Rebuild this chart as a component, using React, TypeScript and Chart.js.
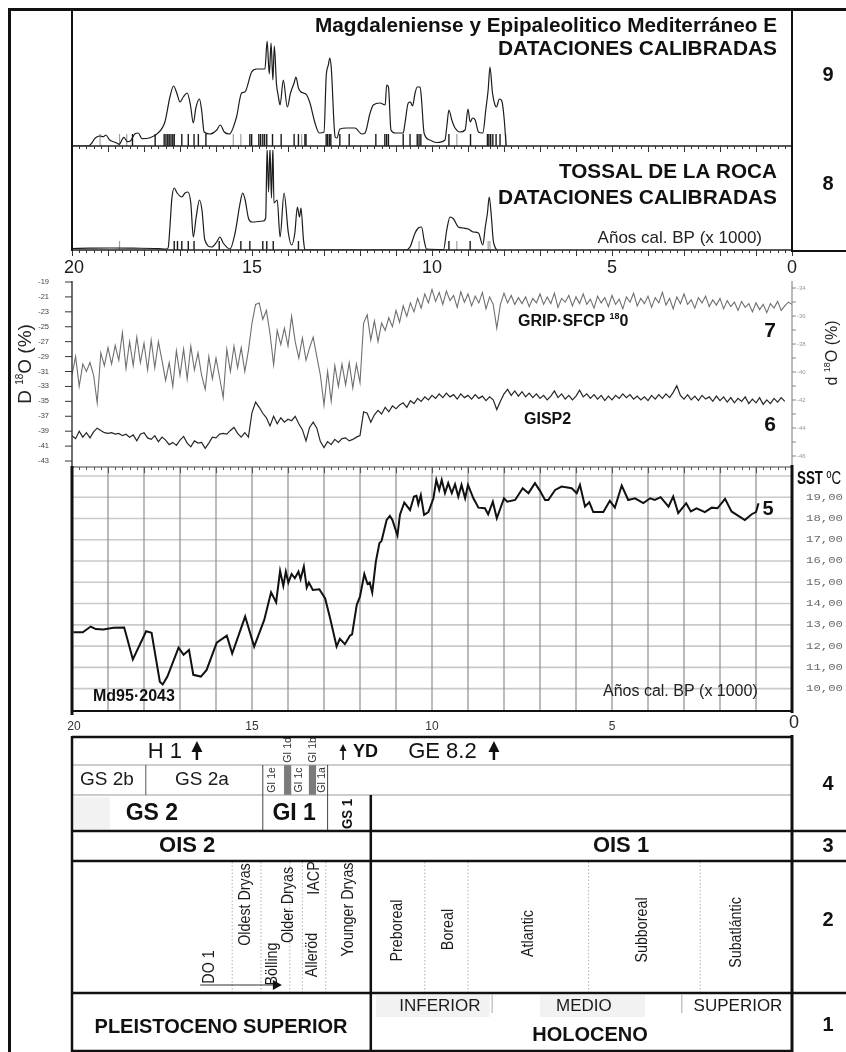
import React, { useEffect, useRef } from "react";
import { Chart, registerables } from "chart.js";

Chart.register(...registerables);

const W = 846;
const H = 1052;
const PLOT_LEFT = 72;
const PLOT_RIGHT = 792;
const FONT = '"Liberation Sans", Arial, Helvetica, sans-serif';
const MONO = '"Liberation Mono", "DejaVu Sans Mono", monospace';
const INK = "#111";

// ---------------- DATA ----------------
const AGE_LABELS = [20, 15, 10, 5, 0];

// 9: Magdaleniense y Epipaleolítico Mediterráneo – summed calibrated dates
const P9_AGES = [20.0, 19.55, 19.45, 19.36, 19.22, 19.13, 19.06, 18.96, 18.76, 18.69, 18.56, 18.46, 18.37, 18.25, 18.16, 18.06, 17.83, 17.63, 17.42, 17.28, 17.18, 17.09, 17.0, 16.91, 16.8, 16.71, 16.63, 16.56, 16.46, 16.4, 16.33, 16.17, 15.98, 15.88, 15.77, 15.63, 15.43, 15.29, 15.2, 15.01, 14.87, 14.64, 14.58, 14.52, 14.47, 14.42, 14.38, 14.32, 14.27, 14.22, 14.13, 14.02, 13.93, 13.83, 13.78, 13.71, 13.64, 13.57, 13.48, 13.39, 13.25, 13.13, 13.0, 12.94, 12.88, 12.84, 12.8, 12.69, 12.64, 12.56, 12.37, 12.14, 11.95, 11.86, 11.72, 11.63, 11.44, 11.3, 11.26, 11.21, 11.14, 11.02, 10.8, 10.75, 10.66, 10.6, 10.54, 10.47, 10.41, 10.33, 10.29, 10.22, 10.06, 9.87, 9.64, 9.59, 9.53, 9.45, 9.36, 9.22, 9.08, 9.0, 8.94, 8.87, 8.8, 8.71, 8.59, 8.5, 8.44, 8.39, 8.32, 8.25, 8.21, 8.13, 8.06, 8.0, 7.94];
const P9_SUM = [0, 0, 3, 7.7, 10, 9.3, 11, 6.3, 3, 1.7, 8.7, 4.3, 5.3, 12.3, 13, 7.3, 8.3, 12.3, 24, 49, 60, 53, 44, 49, 53, 41, 23, 38, 47, 36, 14, 12, 16, 21, 14, 12, 29, 53, 54, 74, 77, 77, 105, 72, 103, 66, 100, 62, 50, 41, 66, 39, 53, 63, 69, 58, 54, 53, 51, 43, 23, 13, 14, 69, 81, 88, 79, 9, 8, 17, 18, 18, 12, 13, 33, 41, 43, 41, 61, 59, 16, 13, 13, 23, 43, 44, 40, 53, 59, 59, 46, 13, 6, 3.5, 6, 19, 36, 26, 18, 14, 16, 37, 24, 28, 26, 14, 13, 38, 56, 79, 53, 41, 39, 47, 45, 29, 0];
const P9_DATES_BLACK = [18.32, 17.69, 17.44, 17.39, 17.34, 17.3, 17.25, 17.2, 17.16, 16.95, 16.77, 16.61, 16.49, 16.28, 15.06, 15.01, 14.81, 14.76, 14.7, 14.65, 14.59, 14.43, 14.19, 13.83, 13.71, 13.53, 13.5, 12.94, 12.9, 12.85, 12.81, 12.56, 12.3, 11.56, 11.31, 11.26, 11.21, 10.8, 10.61, 10.41, 10.36, 10.31, 9.53, 8.93, 8.46, 8.42, 8.37, 8.31, 8.22, 8.11];
const P9_DATES_GREY = [19.22, 18.68, 18.48, 15.52, 15.31, 13.62, 9.31, 7.95];

// 8: Tossal de la Roca – summed calibrated dates
const P8_AGES = [20.0, 19.5, 18.9, 18.3, 17.6, 17.4, 17.33, 17.28, 17.23, 17.16, 17.08, 16.95, 16.86, 16.78, 16.7, 16.63, 16.55, 16.46, 16.39, 16.31, 16.12, 15.98, 15.89, 15.8, 15.61, 15.47, 15.33, 15.26, 15.19, 15.1, 15.0, 14.69, 14.62, 14.58, 14.54, 14.5, 14.46, 14.42, 14.39, 14.3, 14.22, 14.11, 13.99, 13.9, 13.81, 13.74, 13.68, 13.64, 13.57, 13.53, 10.75, 10.61, 10.47, 10.38, 10.29, 10.22, 10.15, 9.68, 9.59, 9.5, 9.4, 9.27, 9.13, 8.99, 8.85, 8.71, 8.59, 8.52, 8.46, 8.41, 8.35, 8.3, 8.25, 8.2];
const P8_SUM = [1.5, 1.8, 2, 1.8, 1.4, 0.8, 2, 23, 50, 62, 57, 53, 57, 58, 47, 13, 33, 50, 40, 10, 3, 8, 13, 7, 1, 17, 47, 57, 50, 32, 28, 29, 32, 102, 58, 102, 52, 102, 47, 50, 13, 57, 17, 5, 17, 43, 33, 42, 10, 0, 0, 3, 17, 22, 23, 10, 1, 0.5, 20, 33, 31, 23, 22, 21, 18, 17, 5, 23, 37, 53, 33, 10, 3, 0];
const P8_DATES_BLACK = [17.16, 17.07, 16.95, 16.77, 16.61, 15.91, 15.31, 15.06, 14.7, 14.59, 14.41, 13.71, 9.53, 8.94];
const P8_DATES_GREY = [18.68, 10.36, 9.31, 8.44, 8.39];

// 7 / 6: ice-core records, sampled every 0.1 ka from 20 ka
const ICE_START_AGE = 20;
const ICE_STEP = 0.1;
const GRIP_D18O = [
  -31.5, -29.0, -33.0, -30.0, -31.0, -29.8, -31.5, -35.2, -28.5, -30.2,
  -27.8, -30.0, -27.5, -29.5, -25.8, -30.6, -27.0, -30.2, -26.4, -29.8,
  -27.2, -30.8, -26.8, -30.5, -27.0, -29.5, -32.2, -29.8, -33.0, -28.2,
  -31.5, -28.0, -32.0, -27.6, -30.8, -28.5, -31.5, -33.4, -29.0, -32.0,
  -29.2, -31.8, -34.5, -28.0, -31.0, -27.6, -30.5, -27.8, -31.0, -28.2,
  -24.5, -22.0, -21.8, -24.0, -22.8, -25.9, -30.1, -25.5, -27.4, -25.2,
  -27.6, -23.6, -27.0, -29.2, -26.5, -29.5, -27.8, -26.4, -29.0, -31.5,
  -35.5, -31.0, -35.0, -30.2, -33.0, -30.0, -32.8, -29.8, -33.2, -30.0,
  -32.5, -24.5, -23.4, -26.8, -24.2, -27.0, -24.5, -25.5, -23.8, -25.0,
  -22.8, -24.4, -22.2, -23.6, -21.8, -23.0, -21.2, -22.5, -20.6, -21.8,
  -20.0, -21.6, -20.4, -22.0, -20.2, -21.5, -20.8, -22.4, -20.3, -21.7,
  -20.6, -22.2, -20.9, -21.8, -20.4, -22.6, -21.0, -22.0, -25.2, -22.0,
  -20.5, -21.8, -20.8, -22.0, -21.1, -21.9, -21.0, -22.3, -21.2, -21.8,
  -20.6, -22.0, -21.0, -21.9, -20.5, -22.4, -21.2, -21.7, -20.8, -22.2,
  -21.0, -21.9, -20.6, -22.0, -21.3, -22.5, -20.9, -21.8, -21.1, -22.3,
  -20.8, -22.0, -21.3, -22.6, -21.0, -21.7, -20.5, -22.2, -21.2, -21.9,
  -20.9, -22.4, -21.1, -21.8, -20.4, -22.1, -21.2, -22.6, -21.0, -21.9,
  -20.6, -22.0, -21.4, -22.5, -21.1, -21.8, -20.9, -22.3, -21.4, -22.1,
  -21.2, -22.6, -21.5, -22.3, -21.7, -22.8, -21.6, -22.4, -21.9, -23.0,
  -21.8, -22.7, -22.0, -23.1, -21.9, -22.5, -21.6, -22.8, -22.2, -21.7,
  -22.0,
];
const GISP2_D18O = [
  -39.6, -40.0, -39.0, -39.8, -39.2, -39.9, -39.1, -38.6, -38.9, -39.2,
  -39.3, -39.2, -39.4, -39.3, -39.6, -39.4, -39.8, -39.5, -40.3, -39.4,
  -39.2, -39.9, -40.1, -39.6, -40.4, -39.8, -40.2, -40.8, -40.5, -40.9,
  -40.2, -39.7, -40.6, -41.1, -40.3, -40.6, -40.5, -41.3, -40.6, -39.8,
  -39.9, -39.4, -39.3, -39.4, -38.9, -38.5, -39.3, -39.8, -39.2, -39.8,
  -36.5, -35.1, -35.8, -36.6, -37.2, -38.3, -37.0, -38.0, -37.2, -37.8,
  -37.4, -37.6, -37.0, -38.0, -38.8, -40.3, -38.5, -37.8, -38.6, -40.4,
  -41.2, -40.4, -40.8, -40.1, -40.5, -40.0, -39.9, -40.3, -40.1, -39.8,
  -39.6, -36.4, -36.6, -37.8, -36.8, -36.2, -36.7, -35.8, -36.4, -35.6,
  -36.0, -35.5, -35.2, -35.8, -34.9, -35.3, -34.6, -35.0, -34.4, -34.8,
  -34.2, -34.6, -34.0, -34.5, -33.9, -34.4, -34.1, -34.7, -34.0, -34.5,
  -34.2, -34.7, -34.1, -34.6, -34.3, -34.9, -34.4, -34.8, -36.1, -35.0,
  -34.0, -33.4, -34.2, -33.6, -34.3, -33.7, -34.4, -33.9, -34.5, -34.0,
  -34.6, -34.2, -34.8, -34.3, -33.6, -34.5, -34.0, -34.7, -34.2, -34.8,
  -34.3, -33.5, -34.4, -34.0, -34.6, -34.1, -34.7, -34.2, -34.9, -34.3,
  -34.8, -34.2, -34.6, -34.0, -34.5, -34.1, -34.7, -34.3, -34.8, -34.4,
  -34.9, -34.2, -34.7, -34.1, -34.6, -34.0, -34.5, -33.8, -32.9, -34.2,
  -34.7, -34.1, -34.8, -34.3, -34.9, -34.2, -34.7, -34.4, -35.0, -34.3,
  -34.9, -34.4, -35.1, -34.5, -35.2, -34.6, -35.0, -34.4, -35.3, -34.7,
  -35.2, -34.5, -35.4, -34.8, -35.3, -34.6, -35.1, -34.5, -35.0,
];
const D18O_LEFT_TICKS = [-19, -21, -23, -25, -27, -29, -31, -33, -35, -37, -39, -41, -43];
const D18O_RIGHT_TICKS = [-34, -35, -36, -37, -38, -39, -40, -41, -42, -43, -44, -45, -46];

// 5: Md95-2043 SST
const SST_AGES = [19.96, 19.7, 19.48, 19.34, 19.13, 18.85, 18.55, 18.31, 17.94, 17.79, 17.56, 17.48, 17.35, 17.04, 16.9, 16.75, 16.63, 16.42, 16.26, 15.98, 15.7, 15.55, 15.19, 14.94, 14.66, 14.47, 14.33, 14.22, 14.13, 14.06, 13.99, 13.9, 13.81, 13.71, 13.65, 13.56, 13.48, 13.42, 13.31, 13.13, 12.97, 12.83, 12.65, 12.56, 12.42, 12.28, 12.22, 12.09, 12.0, 11.88, 11.79, 11.73, 11.66, 11.56, 11.46, 11.4, 11.26, 11.17, 11.1, 10.96, 10.89, 10.77, 10.61, 10.5, 10.43, 10.38, 10.31, 10.22, 10.1, 9.96, 9.88, 9.8, 9.73, 9.64, 9.55, 9.45, 9.36, 9.27, 9.18, 9.08, 9.0, 8.85, 8.71, 8.53, 8.44, 8.31, 8.2, 8.0, 7.91, 7.69, 7.48, 7.32, 7.14, 7.0, 6.86, 6.77, 6.58, 6.4, 6.12, 5.98, 5.89, 5.75, 5.63, 5.52, 5.24, 5.06, 4.92, 4.73, 4.55, 4.36, 4.13, 3.94, 3.81, 3.65, 3.43, 3.3, 3.16, 2.94, 2.81, 2.65, 2.42, 2.23, 2.07, 1.86, 1.68, 1.31, 1.12, 1.0, 0.93];
const SST_C = [12.65, 12.65, 12.92, 12.8, 12.78, 12.86, 12.87, 11.38, 12.7, 12.63, 10.33, 10.2, 10.57, 11.93, 11.59, 11.82, 10.65, 10.57, 10.88, 12.16, 12.49, 11.65, 13.39, 11.98, 13.23, 14.53, 14.06, 15.53, 14.83, 15.5, 14.99, 15.39, 15.19, 15.5, 15.15, 15.74, 14.75, 14.99, 14.64, 14.67, 14.25, 13.31, 11.98, 12.34, 12.09, 12.49, 12.55, 13.94, 14.33, 15.39, 14.92, 14.99, 14.52, 15.97, 16.84, 16.95, 17.93, 18.12, 17.93, 17.2, 18.18, 18.75, 18.4, 19.03, 19.07, 18.67, 19.1, 18.17, 18.3, 18.95, 19.81, 19.34, 19.81, 19.19, 19.66, 19.19, 19.61, 19.03, 19.58, 18.95, 19.58, 18.95, 18.51, 18.48, 18.2, 18.79, 18.01, 18.95, 18.79, 18.87, 19.42, 19.19, 19.66, 19.3, 18.87, 18.87, 19.34, 19.5, 19.42, 19.19, 19.58, 18.56, 18.76, 18.3, 18.3, 18.83, 18.51, 19.55, 18.87, 18.95, 18.72, 18.95, 18.87, 19.0, 18.56, 19.03, 18.25, 18.72, 18.33, 18.48, 18.3, 18.51, 18.48, 18.92, 18.33, 17.93, 18.2, 18.3, 18.72];
const SST_TICKS = [19, 18, 17, 16, 15, 14, 13, 12, 11, 10];
const SST_GRID = [20, 19, 18, 17, 16, 15, 14, 13, 12, 11, 10];

// 1-4: chronostratigraphy (ages in ka cal BP)
const EVENTS = [
  { label: "H 1", age: 17.42, arrow: 16.53, bold: false, size: 22 },
  { label: "YD", age: 11.85, arrow: 12.47, bold: true, size: 18 },
  { label: "GE 8.2", age: 9.71, arrow: 8.28, bold: false, size: 22 },
];
const GS_SUB_LABELS = [{ label: "GS 2b", age: 19.03 }, { label: "GS 2a", age: 16.39 }];
const GI_SUB_TOP = [{ label: "GI 1d", age: 14.0 }, { label: "GI 1b", age: 13.3 }];
const GI_SUB = [{ label: "GI 1e", age: 14.44 }, { label: "GI 1c", age: 13.69 }, { label: "GI 1a", age: 13.06 }];
const GS_MAIN = [{ label: "GS 2", age: 17.78 }, { label: "GI 1", age: 13.83 }];
const GS1 = { label: "GS 1", age: 12.33 };
const OIS = [{ label: "OIS 2", age: 16.8 }, { label: "OIS 1", age: 4.75 }];
const GS_SUB_BOUNDS = [17.95];
const GI_BOUNDS = [14.7, 12.9];
const HOLOCENE_START = 11.7;
const GI_GREY_BARS = [[14.11, 13.91], [13.42, 13.22]];
const POLLEN_BOUNDS = [15.55, 14.75, 13.95, 13.6, 12.95, 10.2, 9.0, 5.65, 2.55];
const POLLEN_ZONES = ["DO 1", "Oldest Dryas", "Bölling", "Older Dryas", "Alleröd", "IACP", "Younger Dryas", "Preboreal", "Boreal", "Atlantic", "Subboreal", "Subatlántic"];
const POLLEN_AGES = [16.19, 15.19, 14.44, 14.0, 13.33, 13.28, 12.33, 10.97, 9.56, 7.33, 4.17, 1.56];
const DO1_ARROW = [16.44, 14.17];
const HOLO_SUB = [{ label: "INFERIOR", age: 9.78 }, { label: "MEDIO", age: 5.78 }, { label: "SUPERIOR", age: 1.5 }];
const HOLO_SUB_BOUNDS = [8.33, 3.06];
const EPOCHS = [{ label: "PLEISTOCENO SUPERIOR", age: 15.86 }, { label: "HOLOCENO", age: 5.61 }];

// ---------------- DRAW HELPERS ----------------
const fnt = (size: number, bold?: boolean, fam?: string) => `${bold ? "bold " : ""}${size}px ${fam || FONT}`;

function txt(ctx: CanvasRenderingContext2D, s: string, x: number, y: number, size: number, o: any = {}) {
  ctx.save();
  ctx.font = fnt(size, o.bold, o.family);
  ctx.fillStyle = o.color || INK;
  ctx.textBaseline = "middle";
  ctx.textAlign = o.align || "center";
  ctx.translate(x, y);
  if (o.rot) ctx.rotate(o.rot);
  let sx = o.sx || 1;
  if (o.width) {
    const w = ctx.measureText(s).width;
    sx = o.width / w;
  }
  ctx.scale(sx, 1);
  ctx.fillText(s, 0, 0);
  ctx.restore();
}

function rich(ctx: CanvasRenderingContext2D, parts: any[], x: number, y: number, o: any = {}) {
  ctx.save();
  ctx.translate(x, y);
  if (o.rot) ctx.rotate(o.rot);
  ctx.scale(o.sx || 1, 1);
  ctx.fillStyle = o.color || INK;
  ctx.textBaseline = "alphabetic";
  ctx.textAlign = "left";
  const ws = parts.map((p) => {
    ctx.font = fnt(p.size, p.bold);
    return ctx.measureText(p.t).width;
  });
  const total = ws.reduce((a, b) => a + b, 0);
  let cx = o.align === "center" ? -total / 2 : o.align === "right" ? -total : 0;
  parts.forEach((p, i) => {
    ctx.font = fnt(p.size, p.bold);
    ctx.fillText(p.t, cx, p.dy || 0);
    cx += ws[i];
  });
  ctx.restore();
}

function seg(ctx: CanvasRenderingContext2D, x1: number, y1: number, x2: number, y2: number, w = 1, c = INK, dash?: number[]) {
  ctx.save();
  ctx.beginPath();
  ctx.lineWidth = w;
  ctx.strokeStyle = c;
  if (dash) ctx.setLineDash(dash);
  ctx.moveTo(x1, y1);
  ctx.lineTo(x2, y2);
  ctx.stroke();
  ctx.restore();
}

function ageTicks(ctx: CanvasRenderingContext2D, xs: any, y: number, dir: number, color = "#333") {
  ctx.save();
  ctx.strokeStyle = color;
  ctx.lineWidth = 1;
  ctx.beginPath();
  for (let k = 0; k <= 100; k++) {
    const px = Math.round(xs.getPixelForValue(k / 5)) + 0.5;
    const len = k % 5 === 0 ? 6 : 3;
    ctx.moveTo(px, y);
    ctx.lineTo(px, y + dir * len);
  }
  ctx.stroke();
  ctx.restore();
}

function upArrow(ctx: CanvasRenderingContext2D, x: number, tip: number, bottom: number, head: number, shaft: number) {
  ctx.save();
  ctx.fillStyle = INK;
  ctx.beginPath();
  ctx.moveTo(x, tip);
  ctx.lineTo(x - head / 2, tip + head);
  ctx.lineTo(x + head / 2, tip + head);
  ctx.closePath();
  ctx.fill();
  ctx.restore();
  seg(ctx, x, tip + head - 1, x, bottom, shaft);
}

function baseOptions(top: number, bottom: number, yMin: number, yMax: number, extra: any = {}) {
  return {
    animation: false,
    responsive: false,
    events: [],
    layout: { padding: { left: PLOT_LEFT, right: W - PLOT_RIGHT, top, bottom } },
    plugins: { legend: { display: false }, tooltip: { enabled: false } },
    scales: {
      x: { type: "linear", min: 0, max: 20, reverse: true, display: false },
      y: { type: "linear", min: yMin, max: yMax, display: false },
      ...extra,
    },
  };
}

const curveDataset = (ages: number[], vals: number[]) => ({
  data: ages.map((a, i) => ({ x: a, y: vals[i] })),
  borderColor: "#1c1c1c",
  borderWidth: 1.2,
  pointRadius: 0,
  cubicInterpolationMode: "monotone",
  fill: false,
});

const datesDataset = (ages: number[], half: number, color: string, width: number) => ({
  data: ages.map((a) => ({ x: a, y: half })),
  showLine: false,
  pointStyle: "line",
  pointRotation: 90,
  pointRadius: half,
  pointBorderColor: color,
  pointBackgroundColor: color,
  pointBorderWidth: width,
});

const iceAge = (i: number) => Math.round((ICE_START_AGE - i * ICE_STEP) * 100) / 100;

// ---------------- PANEL PLUGINS ----------------
const p9Plugin = {
  id: "p9",
  afterDraw(chart: any) {
    const ctx = chart.ctx as CanvasRenderingContext2D;
    const a = chart.chartArea;
    const xs = chart.scales.x;
    seg(ctx, a.left, a.bottom, a.right, a.bottom, 1.6, "#222");
    ageTicks(ctx, xs, a.bottom, 1, "#333");
    txt(ctx, "Magdaleniense y Epipaleolitico Mediterráneo E", 777, 26, 20, { bold: true, align: "right", width: 462 });
    txt(ctx, "DATACIONES CALIBRADAS", 777, 49, 20, { bold: true, align: "right", width: 279 });
    txt(ctx, "9", 828, 75, 20, { bold: true });
  },
};

const T8 = 140;
const p8Plugin = {
  id: "p8",
  afterDraw(chart: any) {
    const ctx = chart.ctx as CanvasRenderingContext2D;
    const a = chart.chartArea;
    const xs = chart.scales.x;
    ctx.save();
    ctx.translate(0, -T8);
    const bottom = a.bottom + T8;
    seg(ctx, a.left, bottom, a.right, bottom, 1.6, "#222");
    ageTicks(ctx, xs, bottom, 1, "#333");
    txt(ctx, "TOSSAL DE LA ROCA", 777, 172, 20, { bold: true, align: "right", width: 218 });
    txt(ctx, "DATACIONES CALIBRADAS", 777, 198, 20, { bold: true, align: "right", width: 279 });
    txt(ctx, "Años cal. BP (x 1000)", 762, 238, 17, { align: "right", color: "#222" });
    txt(ctx, "8", 828, 184, 20, { bold: true });
    ctx.restore();
  },
};

const T7 = 255;
const p7Plugin = {
  id: "p7",
  afterDraw(chart: any) {
    const ctx = chart.ctx as CanvasRenderingContext2D;
    const xs = chart.scales.x;
    const ys = chart.scales.y;
    const ys2 = chart.scales.y2;
    const Y = (v: number) => ys.getPixelForValue(v) + T7;
    const Y2 = (v: number) => ys2.getPixelForValue(v) + T7;
    const L = xs.getPixelForValue(20);
    const R = xs.getPixelForValue(0);
    ctx.save();
    ctx.translate(0, -T7);
    seg(ctx, L, 281, L, 467, 1.4, "#333");
    D18O_LEFT_TICKS.forEach((v) => {
      seg(ctx, L - 7, Y(v), L, Y(v), 1, "#333");
      txt(ctx, String(v), 49, Y(v), 7.5, { align: "right", color: "#444" });
    });
    seg(ctx, R, 281, R, 466, 1, "#777");
    D18O_RIGHT_TICKS.forEach((v) => {
      seg(ctx, R, Y2(v), R + 4, Y2(v), 1, "#888");
      if (v % 2 === 0) txt(ctx, String(v), 797, Y2(v), 6, { align: "left", color: "#999" });
    });
    AGE_LABELS.forEach((a) => txt(ctx, String(a), xs.getPixelForValue(a) + (a === 20 ? 2 : 0), 268, 18, { color: "#1b1b1b" }));
    rich(ctx, [{ t: "D ", size: 19 }, { t: "18", size: 10, dy: -8 }, { t: "O (%)", size: 19 }], 31, 364, { rot: -Math.PI / 2, align: "center", color: "#222" });
    rich(ctx, [{ t: "d ", size: 16 }, { t: "18", size: 9, dy: -7 }, { t: "O (%)", size: 16 }], 837, 353, { rot: -Math.PI / 2, align: "center", color: "#222" });
    rich(ctx, [{ t: "GRIP·SFCP ", size: 16, bold: true }, { t: "18", size: 9, bold: true, dy: -7 }, { t: "0", size: 16, bold: true }], 518, 326, {});
    txt(ctx, "GISP2", 524, 420, 16, { bold: true, align: "left" });
    txt(ctx, "7", 770, 331, 21, { bold: true });
    txt(ctx, "6", 770, 425, 21, { bold: true });
    ctx.restore();
  },
};

const T5 = 460;
const p5Plugin = {
  id: "p5",
  beforeDatasetsDraw(chart: any) {
    const ctx = chart.ctx as CanvasRenderingContext2D;
    const xs = chart.scales.x;
    const ys = chart.scales.y;
    const L = xs.getPixelForValue(20);
    const R = xs.getPixelForValue(0);
    const { top, bottom } = chart.chartArea;
    SST_GRID.forEach((v) => {
      const y = ys.getPixelForValue(v);
      seg(ctx, L, y, R, y, 1.6, "#cacaca");
    });
    for (let a = 1; a < 20; a++) {
      const x = xs.getPixelForValue(a);
      seg(ctx, x, top, x, bottom, 1.2, "#8e8e8e");
    }
  },
  afterDraw(chart: any) {
    const ctx = chart.ctx as CanvasRenderingContext2D;
    const xs = chart.scales.x;
    const ys = chart.scales.y;
    const Y = (v: number) => ys.getPixelForValue(v) + T5;
    const L = xs.getPixelForValue(20);
    const R = xs.getPixelForValue(0);
    ctx.save();
    ctx.translate(0, -T5);
    seg(ctx, L, 467, R, 467, 1, "#444");
    ageTicks(ctx, xs, 467, 1, "#555");
    seg(ctx, L, 466, L, 715, 3);
    seg(ctx, R, 465, R, 713, 3);
    seg(ctx, L, 711, R, 711, 2);
    SST_TICKS.forEach((v) => txt(ctx, `${v},00`, 806, Y(v), 9, { align: "left", family: MONO, color: "#6a6a6a", width: 37 }));
    rich(ctx, [{ t: "SST ", size: 18, bold: true }, { t: "ºC", size: 18 }], 797, 484, { sx: 0.74 });
    txt(ctx, "Md95·2043", 93, 697, 16, { bold: true, align: "left" });
    txt(ctx, "Años cal. BP (x 1000)", 603, 692, 16, { align: "left", color: "#222" });
    txt(ctx, "5", 768, 509, 20, { bold: true });
    AGE_LABELS.forEach((a) => {
      if (a === 0) txt(ctx, "0", xs.getPixelForValue(a) + 2, 723, 18, { color: "#222" });
      else txt(ctx, String(a), xs.getPixelForValue(a) + (a === 20 ? 2 : 0), 727, 12, { color: "#333" });
    });
    ctx.restore();
  },
};

const TT = 733;
const POLLEN_SPANS = [[983, 951], [946, 863], [981, 947], [947, 863], [976, 934], [893, 863], [956, 863], [961, 900], [949, 910], [957, 910], [962, 898], [967, 898]];
const tablePlugin = {
  id: "table",
  afterDraw(chart: any) {
    const ctx = chart.ctx as CanvasRenderingContext2D;
    const xs = chart.scales.x;
    const X = (a: number) => xs.getPixelForValue(a);
    const L = X(20);
    const R = X(0);
    const UP = -Math.PI / 2;
    ctx.save();
    ctx.translate(0, -TT);
    // faint shading
    ctx.fillStyle = "#f2f2f2";
    ctx.fillRect(L + 2, 797, X(18.95) - L - 2, 32);
    ctx.fillRect(X(11.55), 995, X(8.4) - X(11.55), 22);
    ctx.fillRect(X(7.0), 995, X(4.08) - X(7.0), 22);
    // grey GI bars
    ctx.fillStyle = "#7b7b7b";
    GI_GREY_BARS.forEach(([a0, a1]) => ctx.fillRect(X(a0), 765, X(a1) - X(a0), 30));
    // thin lines
    seg(ctx, L, 765, R, 765, 1.2, "#9a9a9a");
    seg(ctx, L, 795, R, 795, 1.2, "#9a9a9a");
    GS_SUB_BOUNDS.forEach((a) => seg(ctx, X(a), 765, X(a), 795, 1, "#555"));
    GI_BOUNDS.forEach((a) => seg(ctx, X(a), 765, X(a), 831, 1, "#444"));
    POLLEN_BOUNDS.forEach((a) => seg(ctx, X(a), 862, X(a), 992, 1, "#b0b0b0", [1.5, 2]));
    HOLO_SUB_BOUNDS.forEach((a) => seg(ctx, X(a), 995, X(a), 1013, 1, "#aaa"));
    // thick lines
    seg(ctx, X(HOLOCENE_START), 795, X(HOLOCENE_START), 1051, 2.5);
    seg(ctx, L, 737, R, 737, 2.5);
    [831, 861, 993].forEach((y) => seg(ctx, L, y, W, y, 2.5));
    seg(ctx, L, 1051, R, 1051, 2.5);
    seg(ctx, L, 736, L, 1052, 2.5);
    seg(ctx, R, 735, R, 1052, 3);

    // row 4a: events
    EVENTS.forEach((e) => {
      txt(ctx, e.label, X(e.age), 752, e.size, { bold: e.bold });
      const big = e.size > 20;
      upArrow(ctx, X(e.arrow), big ? 741 : 744, 760, big ? 11 : 7, big ? 2.5 : 1.6);
    });
    GI_SUB_TOP.forEach((g) => txt(ctx, g.label, X(g.age), 750, 10.5, { rot: UP, color: "#333" }));
    // row 4b
    GS_SUB_LABELS.forEach((g) => txt(ctx, g.label, X(g.age), 780, 19, { color: "#1a1a1a" }));
    GI_SUB.forEach((g) => txt(ctx, g.label, X(g.age), 780, 10.5, { rot: UP, color: "#333" }));
    // row 4c
    GS_MAIN.forEach((g) => txt(ctx, g.label, X(g.age), 814, 23, { bold: true }));
    txt(ctx, GS1.label, X(GS1.age), 814, 14, { bold: true, rot: UP, width: 30 });
    // row 3
    OIS.forEach((g) => txt(ctx, g.label, X(g.age), 846, 22, { bold: true }));
    // row 2
    POLLEN_ZONES.forEach((z, i) => {
      const [b, t] = POLLEN_SPANS[i];
      txt(ctx, z, X(POLLEN_AGES[i]), (b + t) / 2, 17, { rot: UP, sx: 0.84, color: "#1a1a1a" });
    });
    const ax0 = X(DO1_ARROW[0]);
    const ax1 = X(DO1_ARROW[1]);
    seg(ctx, ax0, 985, ax1 - 6, 985, 1, "#333");
    ctx.fillStyle = INK;
    ctx.beginPath();
    ctx.moveTo(ax1, 985);
    ctx.lineTo(ax1 - 9, 980);
    ctx.lineTo(ax1 - 9, 990);
    ctx.closePath();
    ctx.fill();
    // row 1
    txt(ctx, EPOCHS[0].label, X(EPOCHS[0].age), 1027, 20, { bold: true });
    txt(ctx, EPOCHS[1].label, X(EPOCHS[1].age), 1035, 20, { bold: true });
    HOLO_SUB.forEach((h) => txt(ctx, h.label, X(h.age), 1006, 17, { color: "#1a1a1a" }));
    // right column numbers
    [["4", 784], ["3", 846], ["2", 920], ["1", 1025]].forEach(([n, y]) => txt(ctx, n as string, 828, y as number, 20, { bold: true }));
    ctx.restore();
  },
};

// ---------------- CHART BUILDERS ----------------
const buildP9 = () => ({
  type: "line",
  data: {
    datasets: [
      curveDataset(P9_AGES, P9_SUM),
      datesDataset(P9_DATES_BLACK, 6, "#1a1a1a", 1.4),
      datesDataset(P9_DATES_GREY, 6, "#a0a0a0", 1.2),
    ],
  },
  options: baseOptions(14, 10, 0, 132),
  plugins: [p9Plugin],
});

const buildP8 = () => ({
  type: "line",
  data: {
    datasets: [
      curveDataset(P8_AGES, P8_SUM),
      datesDataset(P8_DATES_BLACK, 4.5, "#1a1a1a", 1.4),
      datesDataset(P8_DATES_GREY, 4.5, "#a0a0a0", 1.2),
    ],
  },
  options: baseOptions(10, 12, 0, 100),
  plugins: [p8Plugin],
});

const buildP7 = () => ({
  type: "line",
  data: {
    datasets: [
      { data: GRIP_D18O.map((v, i) => ({ x: iceAge(i), y: v })), borderColor: "#6f6f6f", borderWidth: 1.1, pointRadius: 0, tension: 0 },
      { data: GISP2_D18O.map((v, i) => ({ x: iceAge(i), y: v })), borderColor: "#262626", borderWidth: 1.2, pointRadius: 0, tension: 0 },
    ],
  },
  options: baseOptions(27, 6, -43.4, -19, { y2: { type: "linear", position: "right", min: -46.57, max: -33.57, display: false } }),
  plugins: [p7Plugin],
});

const buildP5 = () => ({
  type: "line",
  data: {
    datasets: [{ data: SST_AGES.map((a, i) => ({ x: a, y: SST_C[i] })), borderColor: "#111", borderWidth: 2, pointRadius: 0, tension: 0 }],
  },
  options: baseOptions(7, 24, 8.95, 20.42),
  plugins: [p5Plugin],
});

const buildTable = () => ({
  type: "line",
  data: { datasets: [] },
  options: baseOptions(4, 1, 0, 1),
  plugins: [tablePlugin],
});

function ChartCanvas({ top, height, build }: { top: number; height: number; build: () => any }) {
  const ref = useRef<HTMLCanvasElement | null>(null);
  useEffect(() => {
    if (!ref.current) return;
    const chart = new Chart(ref.current, build());
    return () => chart.destroy();
  }, [build]);
  return <canvas ref={ref} width={W} height={height} style={{ position: "absolute", left: 0, top, width: W, height }} />;
}

const FRAME = [
  [8, 8, 838, 2.5],
  [8, 8, 3, 1044],
  [71, 9, 2, 242],
  [791, 9, 2, 243],
  [792, 250, 54, 2],
];

export default function App() {
  return (
    <div style={{ position: "absolute", left: 0, top: 0, width: W, height: H, background: "#fff", overflow: "hidden" }}>
      <ChartCanvas top={0} height={156} build={buildP9} />
      <ChartCanvas top={140} height={122} build={buildP8} />
      <ChartCanvas top={255} height={215} build={buildP7} />
      <ChartCanvas top={460} height={275} build={buildP5} />
      <ChartCanvas top={733} height={319} build={buildTable} />
      {FRAME.map((f, i) => (
        <div key={i} style={{ position: "absolute", left: f[0], top: f[1], width: f[2], height: f[3], background: "#111" }} />
      ))}
    </div>
  );
}
